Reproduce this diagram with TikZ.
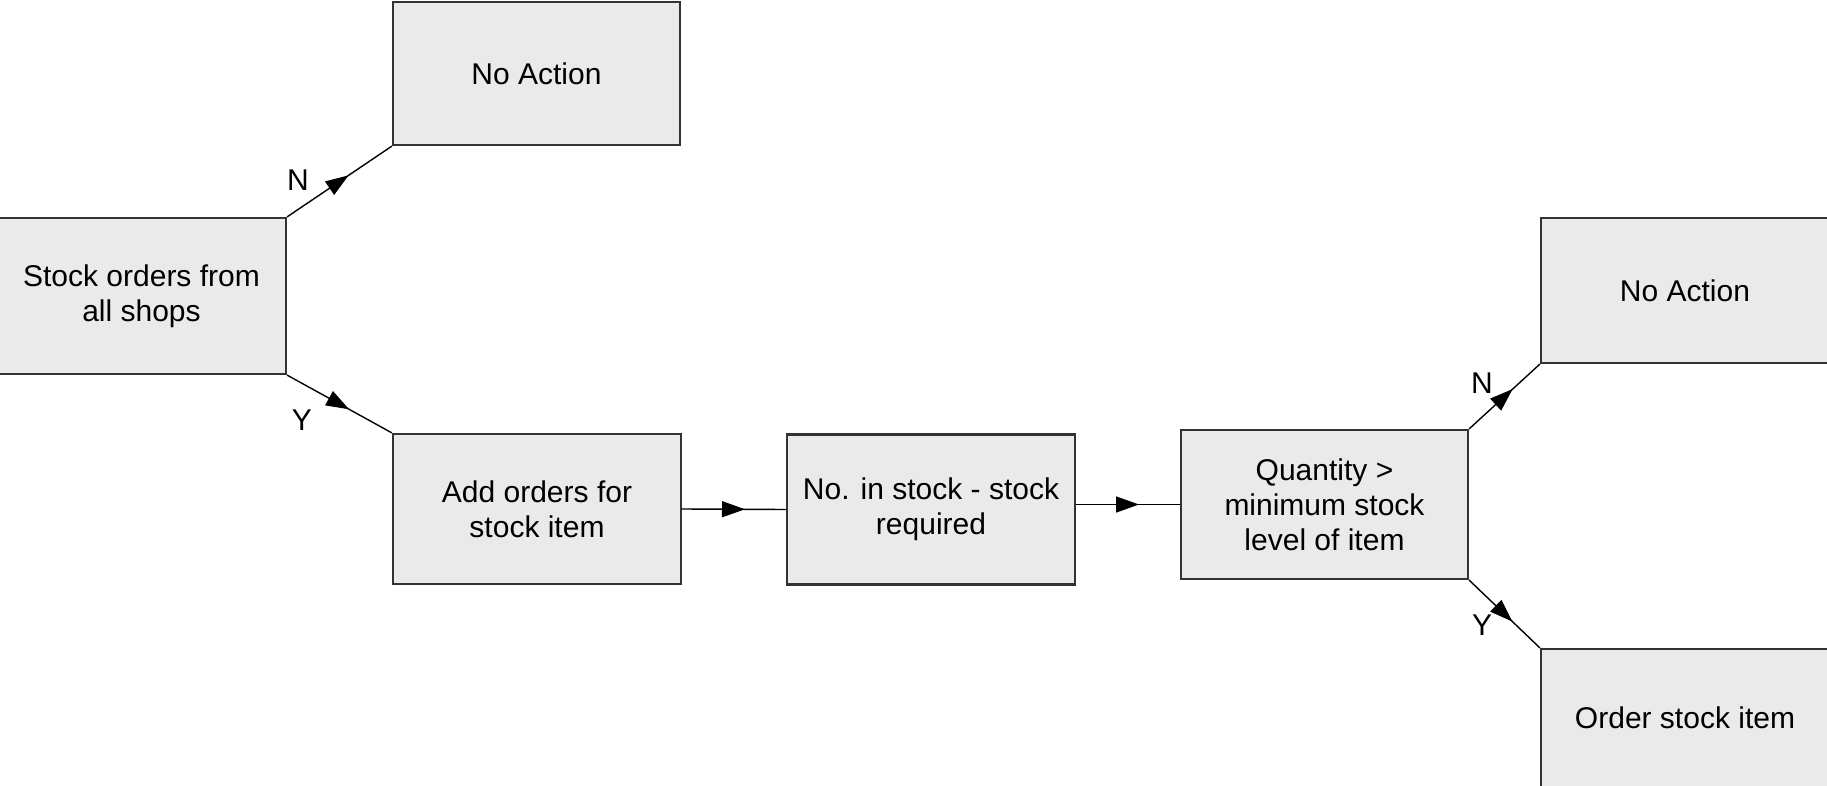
\documentclass[tikz,border=0pt]{standalone}
\usepackage{fontspec}
\setmainfont{Liberation Sans}
\usetikzlibrary{arrows.meta,decorations.markings}
\definecolor{boxfill}{HTML}{EAEAEA}
\definecolor{boxline}{HTML}{333333}
\tikzset{
  box/.style={draw=boxline, line width=2.2pt, fill=boxfill, inner sep=0pt,
    align=center, font=\fontsize{30}{35}\selectfont},
  flow/.style={line width=1.4pt, postaction={decorate},
    decoration={markings, mark=at position 0.5 with
      {\arrow[xshift=11pt]{Triangle[length=23pt,width=16pt]}}}},
  lab/.style={font=\fontsize{30}{35}\selectfont, inner sep=0pt}
}
\begin{document}
\begin{tikzpicture}[x=1pt,y=-1pt]
\clip (0,0) rectangle (1827,786);
\fill[white] (0,0) rectangle (1827,786);
\node[box, minimum width=289pt, minimum height=156pt] (A) at (141.5,296) {Stock orders from\\all shops};
\node[box, minimum width=287pt, minimum height=143pt] (NA1) at (536.5,73.5) {No Action};
\node[box, minimum width=288pt, minimum height=150pt] (Add) at (537,509) {Add orders for\\stock item};
\node[box, minimum width=288pt, minimum height=150pt] (NIS) at (931,509.5) {No. in stock - stock\\required};
\node[box, minimum width=287pt, minimum height=149pt] (Q) at (1324.5,504.5) {Quantity >\\minimum stock\\level of item};
\node[box, minimum width=288pt, minimum height=145pt] (NA2) at (1685,290.5) {No Action};
\node[box, minimum width=288pt, minimum height=138pt] (OS) at (1685,718) {Order stock item};
\draw[flow] (A.north east) -- (NA1.south west);
\draw[flow] (A.south east) -- (Add.north west);
\draw[flow] (Add.east) -- (NIS.west);
\draw[flow] (NIS.east |- Q.west) -- (Q.west);
\draw[flow] (Q.north east) -- (NA2.south west);
\draw[flow] (Q.south east) -- (OS.north west);
\node[lab] (ln1) at (298,180) {N};
\node[lab] (ly1) at (302,420) {Y};
\node[lab] (ln2) at (1482,383) {N};
\node[lab] (ly2) at (1482,625) {Y};
\end{tikzpicture}
\end{document}
